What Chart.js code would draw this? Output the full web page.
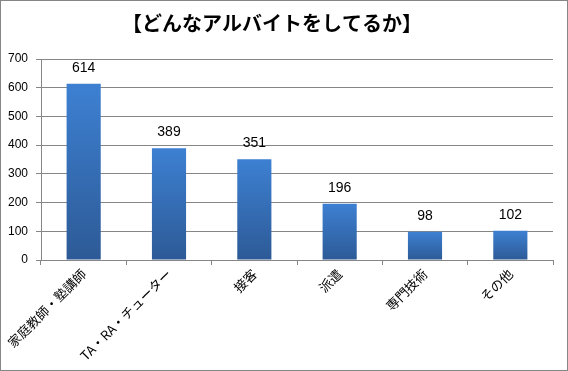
<!DOCTYPE html>
<html><head><meta charset="utf-8">
<script src="https://cdn.jsdelivr.net/npm/chart.js@4/dist/chart.umd.min.js"></script>
<style>html,body{margin:0;padding:0;background:#fff}#wrap{width:568px;height:371px;position:relative}</style>
</head><body><div id="wrap"><canvas id="c" width="568" height="371"></canvas></div>
<script>
const titleText = '【どんなアルバイトをしてるか】';
const categories = ['家庭教師・塾講師', 'TA・RA・チューター', '接客', '派遣', '専門技術', 'その他'];
const values = [614, 389, 351, 196, 98, 102];
const yTicks = [0, 100, 200, 300, 400, 500, 600, 700];

const FONT = "'Liberation Sans', 'Noto Sans CJK JP', sans-serif";
const JFONT = "'Noto Sans CJK JP', sans-serif";

const decor = {
  id: 'decor',
  beforeDraw(chart) {
    const ctx = chart.ctx;
    ctx.save();
    ctx.fillStyle = '#fff';
    ctx.fillRect(0, 0, chart.width, chart.height);
    ctx.restore();
  },
  afterDraw(chart) {
    const ctx = chart.ctx;
    ctx.save();
    ctx.strokeStyle = '#868686';
    ctx.lineWidth = 1;
    ctx.strokeRect(0.5, 0.5, chart.width - 1, chart.height - 1);
    ctx.fillStyle = '#000';
    ctx.font = "bold 20px " + JFONT;
    ctx.textAlign = 'center';
    ctx.textBaseline = 'middle';
    ctx.fillText(titleText, 272, 23);
    const meta = chart.getDatasetMeta(0);
    ctx.font = "14px " + FONT;
    ctx.textBaseline = 'middle';
    meta.data.forEach((bar, i) => {
      ctx.fillText(String(values[i]), bar.x, bar.y - 16);
    });
    ctx.restore();
  }
};

new Chart(document.getElementById('c'), {
  type: 'bar',
  data: {
    labels: categories,
    datasets: [{
      data: values,
      backgroundColor(context) {
        const chart = context.chart;
        const ys = chart.scales && chart.scales.y;
        if (!ys || context.type !== 'data') return '#3a74c0';
        const top = ys.getPixelForValue(context.parsed.y);
        const bottom = ys.getPixelForValue(0);
        if (!isFinite(top) || !isFinite(bottom) || top === bottom) return '#3a74c0';
        const g = chart.ctx.createLinearGradient(0, top, 0, bottom);
        g.addColorStop(0, '#3d80d2');
        g.addColorStop(1, '#2d5a96');
        return g;
      },
      borderWidth: 0,
      barPercentage: 0.4,
      categoryPercentage: 1.0
    }]
  },
  options: {
    responsive: false,
    animation: false,
    devicePixelRatio: 1,
    layout: { padding: { top: 59, left: 0, right: 15, bottom: 0 } },
    plugins: { legend: { display: false }, title: { display: false }, tooltip: { enabled: false } },
    scales: {
      x: {
        grid: { display: true, drawOnChartArea: false, drawTicks: true, tickLength: 5, color: '#868686', offset: true },
        border: { color: '#868686' },
        ticks: { color: '#000', font: { family: JFONT, size: 13 }, maxRotation: 45, minRotation: 45, padding: 1, autoSkip: false },
        afterFit(scale) { scale.height = 371 - 260; }
      },
      y: {
        min: 0, max: 700,
        afterBuildTicks(scale) { scale.ticks = yTicks.map(v => ({ value: v })); },
        grid: { color: '#868686', tickLength: 5 },
        border: { color: '#868686' },
        ticks: { color: '#000', font: { family: FONT, size: 12 }, padding: 8 },
        afterFit(scale) { scale.width = 41; }
      }
    }
  },
  plugins: [decor]
});
</script></body></html>
